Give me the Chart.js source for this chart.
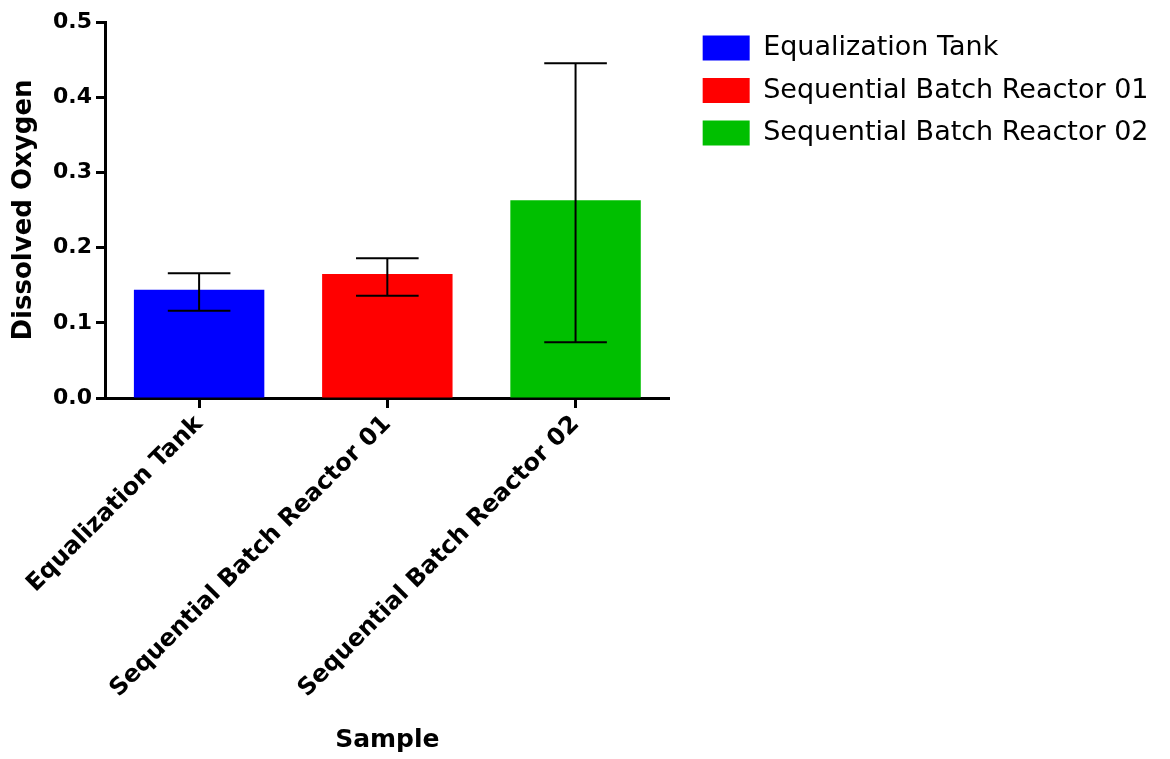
<!DOCTYPE html>
<html><head><meta charset="utf-8">
<script src="https://cdn.jsdelivr.net/npm/chart.js@4.4.1/dist/chart.umd.min.js"></script>
<style>html,body{margin:0;padding:0;background:#fff}</style>
</head><body>
<canvas id="c" width="1170" height="759"></canvas>
<script>
const categories = ['Equalization Tank', 'Sequential Batch Reactor 01', 'Sequential Batch Reactor 02'];
const meanValues = [0.144, 0.165, 0.263];
const errorLow = [0.116, 0.136, 0.074];
const errorHigh = [0.166, 0.186, 0.445];
const barColors = ['#0000FF', '#FF0000', '#00BF00'];
const yTickValues = [0, 0.1, 0.2, 0.3, 0.4, 0.5];
const yTitle = 'Dissolved Oxygen';
const xTitle = 'Sample';

const FONT = "'DejaVu Sans', sans-serif";

const errorBarPlugin = {
  id: 'errorBars',
  afterDatasetsDraw(chart) {
    const {ctx, scales: {y}} = chart;
    const meta = chart.getDatasetMeta(0);
    ctx.save();
    ctx.strokeStyle = '#000';
    ctx.lineWidth = 2;
    meta.data.forEach((bar, i) => {
      const cx = bar.x;
      const yl = y.getPixelForValue(errorLow[i]);
      const yh = y.getPixelForValue(errorHigh[i]);
      const half = bar.width * 0.24;
      ctx.beginPath();
      ctx.moveTo(cx, yl); ctx.lineTo(cx, yh);
      ctx.moveTo(cx - half, yl); ctx.lineTo(cx + half, yl);
      ctx.moveTo(cx - half, yh); ctx.lineTo(cx + half, yh);
      ctx.stroke();
    });
    ctx.restore();
  }
};

new Chart(document.getElementById('c'), {
  type: 'bar',
  data: {
    labels: categories,
    datasets: [{
      label: 'Dissolved Oxygen',
      data: meanValues,
      backgroundColor: barColors,
      borderWidth: 0,
      barPercentage: 0.693,
      categoryPercentage: 1.0
    }]
  },
  options: {
    responsive: false,
    animation: false,
    devicePixelRatio: 1,
    layout: { padding: { top: 19, right: 11.5, left: 0, bottom: 0 } },
    plugins: {
      tooltip: { enabled: false },
      legend: {
        position: 'right',
        align: 'start',
        maxWidth: 520,
        labels: {
          boxWidth: 47,
          boxHeight: 25,
          padding: 15.5,
          color: '#000',
          font: { family: FONT, size: 27 },
          generateLabels: () => categories.map((c, i) => ({
            text: c, fillStyle: barColors[i], strokeStyle: barColors[i], lineWidth: 0, hidden: false, index: i
          }))
        }
      }
    },
    scales: {
      x: {
        offset: true,
        grid: { offset: false, drawOnChartArea: false, drawTicks: true, tickLength: 10, tickWidth: 3, tickColor: '#000' },
        border: { display: true, width: 3, color: '#000' },
        ticks: { maxRotation: 45, minRotation: 45, padding: 2, color: '#000', font: { family: FONT, size: 24, weight: 'bold' } },
        title: { display: true, text: xTitle, color: '#000', font: { family: FONT, size: 25, weight: 'bold' }, padding: { top: 4, bottom: 4 } },
        afterFit: s => { s.height = 361; }
      },
      y: {
        min: 0, max: 0.5,
        afterBuildTicks: s => { s.ticks = yTickValues.map(v => ({ value: v })); },
        grid: { drawOnChartArea: false, drawTicks: true, tickLength: 9, tickWidth: 3, tickColor: '#000' },
        border: { display: true, width: 3, color: '#000' },
        ticks: { padding: 4, color: '#000', font: { family: FONT, size: 22, weight: 'bold' }, callback: v => Number(v).toFixed(1) },
        title: { display: true, text: yTitle, color: '#000', font: { family: FONT, size: 26, weight: 'bold' }, padding: { top: 9, bottom: 4 } },
        afterFit: s => { s.width = 105; s.paddingTop = 22; }
      },
      yRight: {
        axis: 'y',
        position: 'right',
        display: true,
        grid: { display: false, drawTicks: false },
        border: { display: false },
        ticks: { display: false },
        afterFit: s => { s.width = 17.5; }
      }
    }
  },
  plugins: [errorBarPlugin]
});
</script>
</body></html>
